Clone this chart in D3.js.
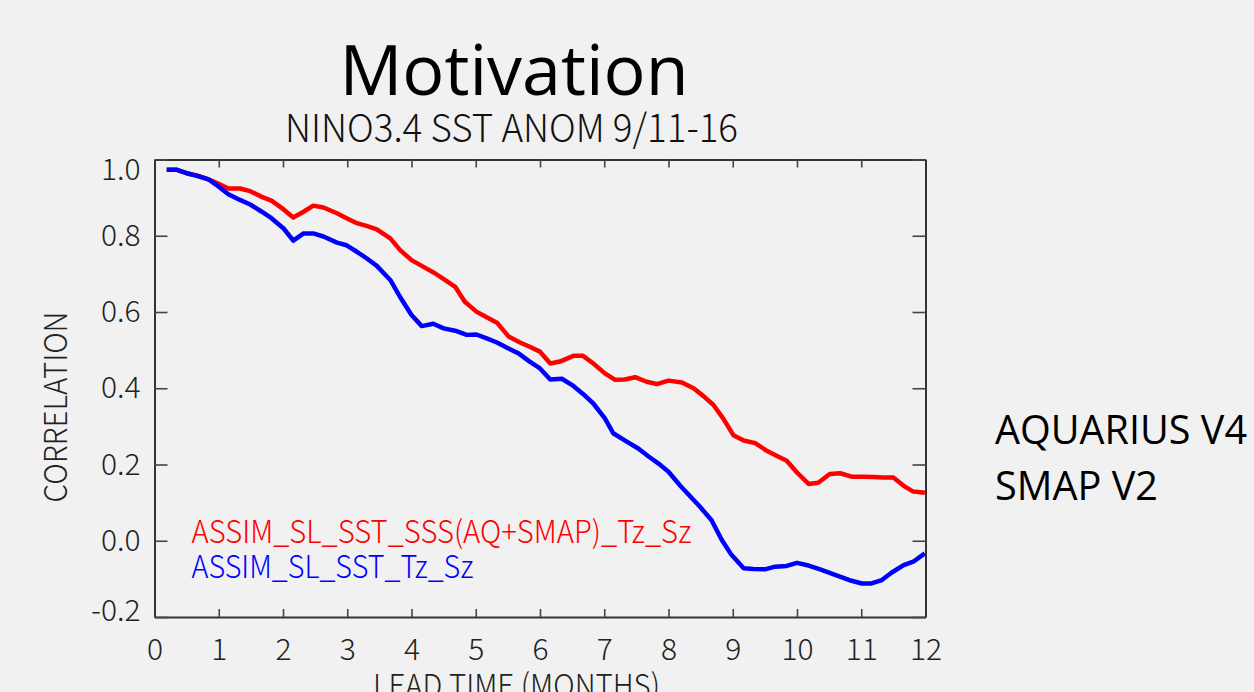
<!DOCTYPE html>
<html>
<head>
<meta charset="utf-8">
<script src="https://cdn.jsdelivr.net/npm/d3@7"></script>
<style>
  html, body { margin: 0; padding: 0; background: #f1f1f1; }
  svg { display: block; }
</style>
</head>
<body>
<svg id="chart" width="1254" height="692"></svg>
<script>
// ---- data ----
const leadRed = [0.19,0.35,0.50,0.66,0.81,0.99,1.15,1.33,1.49,1.67,1.82,2.01,2.16,2.32,2.47,2.63,2.84,2.99,3.15,3.30,3.46,
  3.67,3.82,4.00,4.18,4.37,4.52,4.68,4.83,5.01,5.17,5.33,5.51,5.69,5.84,6.00,6.16,6.31,6.52,6.67,6.83,7.01,7.17,7.32,7.48,
  7.66,7.82,8.00,8.21,8.39,8.54,8.70,8.85,9.01,9.17,9.35,9.53,9.68,9.84,10.00,10.18,10.33,10.51,10.67,10.85,11.03,11.19,
  11.34,11.50,11.66,11.81,11.99];
const corrRed = [0.973,0.973,0.964,0.958,0.950,0.937,0.924,0.924,0.917,0.902,0.892,0.869,0.848,0.863,0.879,0.874,0.859,0.846,0.833,0.826,0.817,
  0.793,0.763,0.736,0.719,0.701,0.684,0.666,0.627,0.601,0.586,0.572,0.536,0.520,0.509,0.496,0.465,0.470,0.485,0.485,0.465,0.439,0.422,0.423,0.429,
  0.417,0.411,0.420,0.415,0.400,0.380,0.356,0.321,0.277,0.263,0.256,0.236,0.223,0.210,0.179,0.149,0.152,0.175,0.177,0.168,0.168,0.167,
  0.166,0.166,0.144,0.129,0.126];

const leadBlue = [0.19,0.35,0.50,0.66,0.84,0.99,1.15,1.33,1.49,1.67,1.82,2.01,2.16,2.32,2.47,2.63,2.84,2.99,3.15,3.30,3.46,
  3.67,3.82,4.00,4.16,4.34,4.50,4.68,4.86,5.01,5.17,5.33,5.48,5.66,5.84,6.00,6.16,6.34,6.52,6.67,6.83,7.01,7.14,7.35,7.53,
  7.69,7.84,8.00,8.18,8.34,8.49,8.67,8.83,8.98,9.17,9.32,9.50,9.66,9.84,10.00,10.18,10.36,10.54,10.70,10.85,11.01,11.16,
  11.32,11.47,11.66,11.81,11.99];
const corrBlue = [0.973,0.973,0.964,0.957,0.948,0.930,0.909,0.894,0.882,0.863,0.846,0.819,0.787,0.806,0.806,0.798,0.782,0.775,0.758,0.741,0.721,
  0.684,0.640,0.592,0.563,0.569,0.557,0.551,0.540,0.541,0.531,0.520,0.507,0.492,0.470,0.452,0.423,0.425,0.406,0.385,0.360,0.321,0.282,0.260,0.242,
  0.221,0.203,0.181,0.145,0.116,0.089,0.054,0.002,-0.037,-0.072,-0.074,-0.075,-0.068,-0.066,-0.058,-0.065,-0.075,-0.086,-0.096,-0.105,-0.112,-0.112,
  -0.103,-0.084,-0.064,-0.055,-0.033];

const xTicks = [0,1,2,3,4,5,6,7,8,9,10,11,12];
const yTicks = [-0.2,0.0,0.2,0.4,0.6,0.8,1.0];
const seriesNames = ["ASSIM_SL_SST_SSS(AQ+SMAP)_Tz_Sz", "ASSIM_SL_SST_Tz_Sz"];
const seriesColors = ["#ff0000", "#0000ff"];

// ---- drawing ----
const svg = d3.select("#chart");
const pLeft = 154.5, pRight = 925.5, pTop = 159.5, pBottom = 617;
const x = d3.scaleLinear().domain([0, 12]).range([pLeft, pRight]);
const y = d3.scaleLinear().domain([-0.2, 1.0]).range([pBottom, pTop]);

const chartFont = "'Noto Sans CJK JP', 'Noto Sans', sans-serif";

// titles
svg.append("text").attr("x", 514).attr("y", 95).attr("text-anchor", "middle")
  .style("font-family", "'Open Sans', sans-serif").style("font-size", "70px").attr("fill", "#000")
  .text("Motivation");
svg.append("text").attr("x", 285).attr("y", 141.5)
  .attr("textLength", 453).attr("lengthAdjust", "spacingAndGlyphs")
  .style("font-family", chartFont).style("font-weight", 300).style("font-size", "39px").attr("fill", "#111")
  .text("NINO3.4 SST ANOM 9/11-16");

// side notes
const side = svg.append("g").style("font-family", "'Open Sans', sans-serif").style("font-size", "40px").attr("fill", "#000");
side.append("text").attr("x", 995).attr("y", 444).attr("textLength", 252).attr("lengthAdjust", "spacingAndGlyphs").text("AQUARIUS V4");
side.append("text").attr("x", 995).attr("y", 499.5).attr("textLength", 163).attr("lengthAdjust", "spacingAndGlyphs").text("SMAP V2");

// axes
function styleAxis(g) {
  g.select(".domain").attr("stroke", "#333").attr("stroke-width", 2);
  g.selectAll(".tick line").attr("stroke", "#444").attr("stroke-width", 1.6);
  g.selectAll(".tick text").style("font-family", chartFont).style("font-weight", 300)
    .style("font-size", "30px").attr("fill", "#222");
}
const fmtY = d => d3.format(".1f")(d).replace("\u2212", "-");
const gx = svg.append("g").attr("transform", `translate(0,${pBottom})`)
  .call(d3.axisBottom(x).tickValues(xTicks).tickFormat(d3.format("d")).tickSizeInner(-8).tickSizeOuter(0).tickPadding(22));
styleAxis(gx);
const gxt = svg.append("g").attr("transform", `translate(0,${pTop})`)
  .call(d3.axisTop(x).tickValues(xTicks).tickFormat("").tickSizeInner(-8).tickSizeOuter(0));
styleAxis(gxt);
const gy = svg.append("g").attr("transform", `translate(${pLeft},0)`)
  .call(d3.axisLeft(y).tickValues(yTicks).tickFormat(fmtY).tickSizeInner(-13).tickSizeOuter(0).tickPadding(14));
styleAxis(gy);
gy.selectAll(".tick text").attr("transform", d => d === 1.0 ? "translate(0,10)" : (d === -0.2 ? "translate(0,-6)" : null));
const gyr = svg.append("g").attr("transform", `translate(${pRight},0)`)
  .call(d3.axisRight(y).tickValues(yTicks).tickFormat("").tickSizeInner(-13).tickSizeOuter(0));
styleAxis(gyr);

// axis titles
svg.append("text").attr("transform", "translate(66.5,407) rotate(-90)").attr("text-anchor", "middle")
  .attr("textLength", 191).attr("lengthAdjust", "spacingAndGlyphs")
  .style("font-family", chartFont).style("font-weight", 300).style("font-size", "32px").attr("fill", "#222").text("CORRELATION");
svg.append("text").attr("x", 373).attr("y", 697)
  .attr("textLength", 287).attr("lengthAdjust", "spacingAndGlyphs")
  .style("font-family", chartFont).style("font-weight", 300).style("font-size", "32px").attr("fill", "#222").text("LEAD TIME (MONTHS)");

// lines
const line = d3.line().x(d => x(d[0])).y(d => y(d[1]));
const redPts = leadRed.map((v, i) => [v, corrRed[i]]);
const bluePts = leadBlue.map((v, i) => [v, corrBlue[i]]);
svg.append("path").datum(redPts).attr("d", line).attr("fill", "none")
  .attr("stroke", seriesColors[0]).attr("stroke-width", 4.5).attr("stroke-linejoin", "round");
svg.append("path").datum(bluePts).attr("d", line).attr("fill", "none")
  .attr("stroke", seriesColors[1]).attr("stroke-width", 4.5).attr("stroke-linejoin", "round");

// legend
const legendLens = [500, 282];
const legendY = [543.3, 577.5];
seriesNames.forEach((n, i) => {
  svg.append("text").attr("x", 191.5).attr("y", legendY[i])
    .attr("textLength", legendLens[i]).attr("lengthAdjust", "spacingAndGlyphs")
    .style("font-family", chartFont).style("font-weight", 300)
    .style("font-size", "31px").attr("fill", seriesColors[i]).text(n);
});
</script>
</body>
</html>
